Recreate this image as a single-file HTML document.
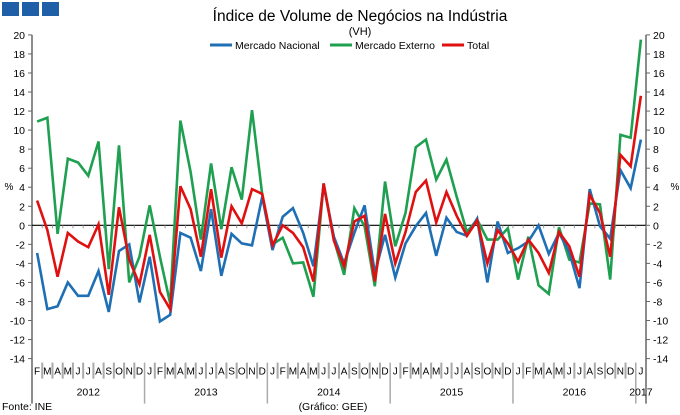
<!DOCTYPE html>
<html><head><meta charset="utf-8"><style>
body{margin:0;background:#fff;}
svg{display:block;font-family:"Liberation Sans",sans-serif;}
</style></head><body>
<svg id="c" width="680" height="415" viewBox="0 0 680 415">
<rect x="2" y="2" width="17" height="14" fill="#1f5fa8"/>
<rect x="22" y="2" width="17" height="14" fill="#1f5fa8"/>
<rect x="42" y="2" width="17" height="14" fill="#1f5fa8"/>
<text x="360" y="21" font-size="15.5" text-anchor="middle" fill="#000">Índice de Volume de Negócios na Indústria</text>
<text x="360" y="35" font-size="11" text-anchor="middle" fill="#000">(VH)</text>
<g>
<line x1="210" y1="45" x2="232" y2="45" stroke="#1f6fb4" stroke-width="3"/>
<text x="235" y="49" font-size="10.5">Mercado Nacional</text>
<line x1="330" y1="45" x2="352" y2="45" stroke="#1fa050" stroke-width="3"/>
<text x="355" y="49" font-size="10.5">Mercado Externo</text>
<line x1="442" y1="45" x2="464" y2="45" stroke="#e01010" stroke-width="3"/>
<text x="467" y="49" font-size="10.5">Total</text>
</g>
<text x="9" y="190" font-size="10" text-anchor="middle">%</text>
<text x="675" y="190" font-size="10" text-anchor="middle">%</text>
<text x="2" y="410" font-size="10.5">Fonte: INE</text>
<text x="333" y="410" font-size="10.5" text-anchor="middle">(Gráfico: GEE)</text>
<g id="g"></g>
</svg>
<script>
const months=["F","M","A","M","J","J","A","S","O","N","D"].concat(
 ...[0,1,2,3].map(()=>["J","F","M","A","M","J","J","A","S","O","N","D"]),["J"]);
const years=["2012","2013","2014","2015","2016","2017"];
const yTicks=[-14,-12,-10,-8,-6,-4,-2,0,2,4,6,8,10,12,14,16,18,20];
const nacional=[-2.9,-8.8,-8.5,-6.0,-7.4,-7.4,-4.8,-9.1,-2.7,-2.0,-8.1,-3.3,-10.1,-9.4,-0.8,-1.3,-4.8,1.7,-5.3,-0.9,-1.9,-2.1,3.0,-2.6,0.9,1.8,-0.8,-4.3,4.2,-1.2,-4.0,-0.8,2.1,-5.0,-1.0,-5.5,-1.9,-0.1,1.3,-3.2,0.8,-0.7,-1.1,0.7,-6.0,0.4,-2.9,-2.4,-1.7,0.0,-3.0,-0.8,-2.8,-6.6,3.8,-0.1,-1.4,5.8,3.9,9.0];
const externo=[10.9,11.3,-0.9,7.0,6.6,5.2,8.8,-4.6,8.4,-6.0,-3.3,2.1,-3.3,-8.2,11.0,5.6,-1.5,6.5,-0.4,6.1,2.7,12.1,3.2,-2.0,-1.3,-4.0,-3.9,-7.5,4.4,-1.5,-5.2,1.8,-0.1,-6.4,4.6,-2.2,1.3,8.2,9.0,4.8,6.9,3.0,-0.7,0.6,-1.5,-1.5,-0.3,-5.7,-1.2,-6.3,-7.2,-0.2,-3.6,-3.9,2.3,2.2,-5.7,9.5,9.2,19.5];
const total=[2.6,-0.5,-5.4,-0.8,-1.7,-2.3,0.1,-7.3,1.9,-3.6,-6.2,-1.0,-7.0,-8.8,4.1,1.7,-3.3,3.8,-3.4,2.0,0.2,3.8,3.3,-2.1,0.0,-0.8,-2.3,-5.9,4.4,-1.6,-4.3,0.4,1.0,-5.9,1.2,-4.0,-0.7,3.5,4.7,0.3,3.5,1.0,-1.1,0.5,-4.0,-0.5,-1.9,-3.8,-1.5,-2.9,-5.0,-0.7,-2.2,-5.4,3.2,1.3,-3.3,7.4,6.2,13.6];

const NS="http://www.w3.org/2000/svg",g=document.getElementById("g");
const L=32,R=646,T=34.9,B=358.6,ymin=-14,ymax=20,n=months.length,cw=(R-L)/n;
const X=i=>L+cw*(i+0.5), Y=v=>B-(v-ymin)/(ymax-ymin)*(B-T);
function mk(t,a){const e=document.createElementNS(NS,t);for(const k in a)e.setAttribute(k,a[k]);g.appendChild(e);return e;}
let e=mk("line",{x1:L,y1:T,x2:L,y2:B+45,stroke:"#666","stroke-width":1.5});


e=mk("line",{x1:R,y1:T,x2:R,y2:B+45,stroke:"#666","stroke-width":1.5});


yTicks.forEach(v=>{
 const y=Y(v);
 e=mk("line",{x1:L-4,y1:y,x2:L,y2:y,stroke:"#666"});
 
 
 e=mk("line",{x1:R,y1:y,x2:R+4,y2:y,stroke:"#666"});
 
 
 e=mk("text",{x:L-7,y:y+4,"font-size":10.5,"text-anchor":"end"});e.textContent=v;
 
 
 e=mk("text",{x:R+7,y:y+4,"font-size":10.5});e.textContent=v;
 
 
});
e=mk("line",{x1:L,y1:Y(0),x2:R,y2:Y(0),stroke:"#000","stroke-width":1.2});


months.forEach((m,i)=>{
 e=mk("line",{x1:L+cw*(i+1),y1:Y(0),x2:L+cw*(i+1),y2:Y(0)+3,stroke:"#999"});
 
 
 e=mk("text",{x:X(i),y:B+16,"font-size":10,"text-anchor":"middle"});e.textContent=m;
 
 
 const xs=L+cw*(i+1);
 const yb=(m==="D")?B+45:B+20;
 if(i<n-1){e=mk("line",{x1:xs,y1:B+4,x2:xs,y2:yb,stroke:"#aaa","stroke-width":m==="D"?1.5:2});
 
 }
});
let start=0;
years.forEach((yr,k)=>{
 const cnt=k===0?11:(k===years.length-1?1:12);
 const cx=L+cw*(start+cnt/2);
 e=mk("text",{x:cx,y:B+37,"font-size":10.5,"text-anchor":"middle"});e.textContent=yr;
 
 
 start+=cnt;
});
function series(arr,color,name){
 const p=mk("polyline",{points:arr.map((v,i)=>X(i)+","+Y(v)).join(" "),fill:"none",stroke:color,"stroke-width":2.6,"stroke-linejoin":"miter"});
 
 
}
series(externo,"#1fa050","series-mercado-externo");
series(nacional,"#1f6fb4","series-mercado-nacional");
series(total,"#e01010","series-total");
</script>
</body></html>
